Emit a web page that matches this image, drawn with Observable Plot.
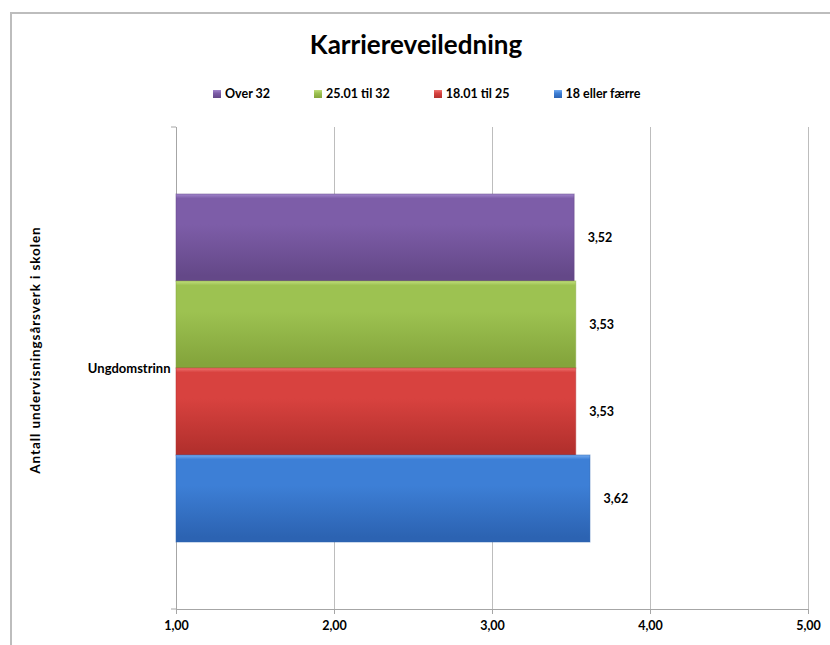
<!DOCTYPE html>
<html>
<head>
<meta charset="utf-8">
<script src="https://cdn.jsdelivr.net/npm/d3@7"></script>
<script src="https://cdn.jsdelivr.net/npm/@observablehq/plot@0.6"></script>
<style>
  html, body { margin: 0; padding: 0; background: #fff; }
  #wrap { position: relative; width: 830px; height: 645px; overflow: hidden; font-family: Lato, "Open Sans", sans-serif; }
  #border { position: absolute; left: 10px; top: 12px; width: 830px; height: 650px; border-top: 2px solid #bdbdbd; border-left: 2px solid #bdbdbd; }
  #title { position: absolute; left: 0; width: 832px; top: 28px; text-align: center; font-size: 26px; font-weight: bold; color: #000; }
  #legend { position: absolute; left: 213px; top: 86px; display: flex; gap: 44px; font-size: 12.5px; font-weight: bold; white-space: nowrap; }
  #legend .item { display: flex; align-items: center; gap: 4px; }
  #legend .sw { width: 8px; height: 8px; display: inline-block; }
  #axtitle { position: absolute; left: 35px; top: 350px; transform: translate(-50%, -50%) rotate(-90deg); font-size: 13.5px; letter-spacing: 0.9px; font-weight: bold; white-space: nowrap; }
  #chart { position: absolute; left: 0; top: 115px; }
</style>
</head>
<body>
<div id="wrap">
  <div id="border"></div>
  <div id="title"></div>
  <div id="legend"></div>
  <div id="axtitle"></div>
  <div id="chart"></div>
</div>
<script>
const chartTitle = "Karriereveiledning";
const axisTitle = "Antall undervisningsårsverk i skolen";
const categories = ["Ungdomstrinn"];
const series = ["Over 32", "25.01 til 32", "18.01 til 25", "18 eller færre"];
const values = [3.52, 3.53, 3.53, 3.62];
const xTicks = [1, 2, 3, 4, 5];
// gradient stops per series: light top, mid, dark bottom
const colorsLight = ["#a286cc", "#c0de7c", "#ee7370", "#74abf0"];
const colorsMid = ["#7d5da8", "#9dc251", "#d8423f", "#3d7fd6"];
const colorsDark = ["#644888", "#84a53c", "#b3302d", "#2c63b2"];

const fmt = v => v.toFixed(2).replace(".", ",");

document.getElementById("title").textContent = chartTitle;
document.getElementById("axtitle").textContent = axisTitle;

const legend = document.getElementById("legend");
series.forEach((s, i) => {
  const item = document.createElement("div");
  item.className = "item";
  const sw = document.createElement("span");
  sw.className = "sw";
  sw.style.background = `linear-gradient(${colorsLight[i]}, ${colorsMid[i]} 40%, ${colorsDark[i]})`;
  const t = document.createElement("span");
  t.textContent = s;
  item.appendChild(sw);
  item.appendChild(t);
  legend.appendChild(item);
});

const data = series.map((s, i) => ({category: categories[0], series: s, value: values[i], idx: i}));

const chart = Plot.plot({
  width: 830,
  height: 530,
  marginLeft: 176,
  marginRight: 22,
  marginTop: 12,
  marginBottom: 36,
  style: {fontFamily: "Lato, 'Open Sans', sans-serif", fontSize: "12px", background: "transparent"},
  x: {domain: [1, 5], ticks: xTicks, label: null},
  y: {domain: series, paddingInner: 0, paddingOuter: 0.75, axis: null},
  color: {type: "identity"},
  marks: [
    Plot.gridX(xTicks, {stroke: "#bdbdbd", strokeOpacity: 1}),
    Plot.frame({anchor: "left", stroke: "#a6a6a6"}),
    Plot.frame({anchor: "bottom", stroke: "#a6a6a6"}),
    Plot.axisX(xTicks, {
      tickSize: 5, tickPadding: 7, stroke: "#a6a6a6",
      tickFormat: fmt, fontWeight: "bold", fontSize: 12.5, fill: "#000", label: null
    }),
    Plot.barX(data, {
      x1: () => xTicks[0], x2: "value", y: "series",
      fill: d => `url(#grad${d.idx})`,
      stroke: d => colorsDark[d.idx], strokeOpacity: 0.5
    }),
    Plot.text(data, {
      x: "value", y: "series", text: d => fmt(d.value), dx: 13,
      textAnchor: "start", fontWeight: "bold", fontSize: 12.5, fill: "#000"
    }),
    Plot.text(categories, {
      frameAnchor: "left", text: d => d, dx: -6, textAnchor: "end",
      fontWeight: "bold", fontSize: 13, fill: "#000"
    })
  ]
});

// gradient definitions for bevelled bars
const svg = d3.select(chart);
const defs = svg.insert("defs", ":first-child");
series.forEach((s, i) => {
  const g = defs.append("linearGradient").attr("id", `grad${i}`)
    .attr("x1", 0).attr("y1", 0).attr("x2", 0).attr("y2", 1);
  g.append("stop").attr("offset", "0%").attr("stop-color", colorsLight[i]);
  g.append("stop").attr("offset", "5%").attr("stop-color", colorsMid[i]);
  g.append("stop").attr("offset", "35%").attr("stop-color", colorsMid[i]);
  g.append("stop").attr("offset", "94%").attr("stop-color", colorsDark[i]);
  g.append("stop").attr("offset", "100%").attr("stop-color", colorsDark[i]);
});
// small outward ticks at the ends of the category axis
const xs = chart.scale("x");
const x0 = xs.range[0];
[12, 530 - 36].forEach(yy => {
  svg.append("line").attr("x1", x0 - 5).attr("x2", x0).attr("y1", yy).attr("y2", yy)
    .attr("stroke", "#a6a6a6");
});

document.getElementById("chart").appendChild(chart);
</script>
</body>
</html>
